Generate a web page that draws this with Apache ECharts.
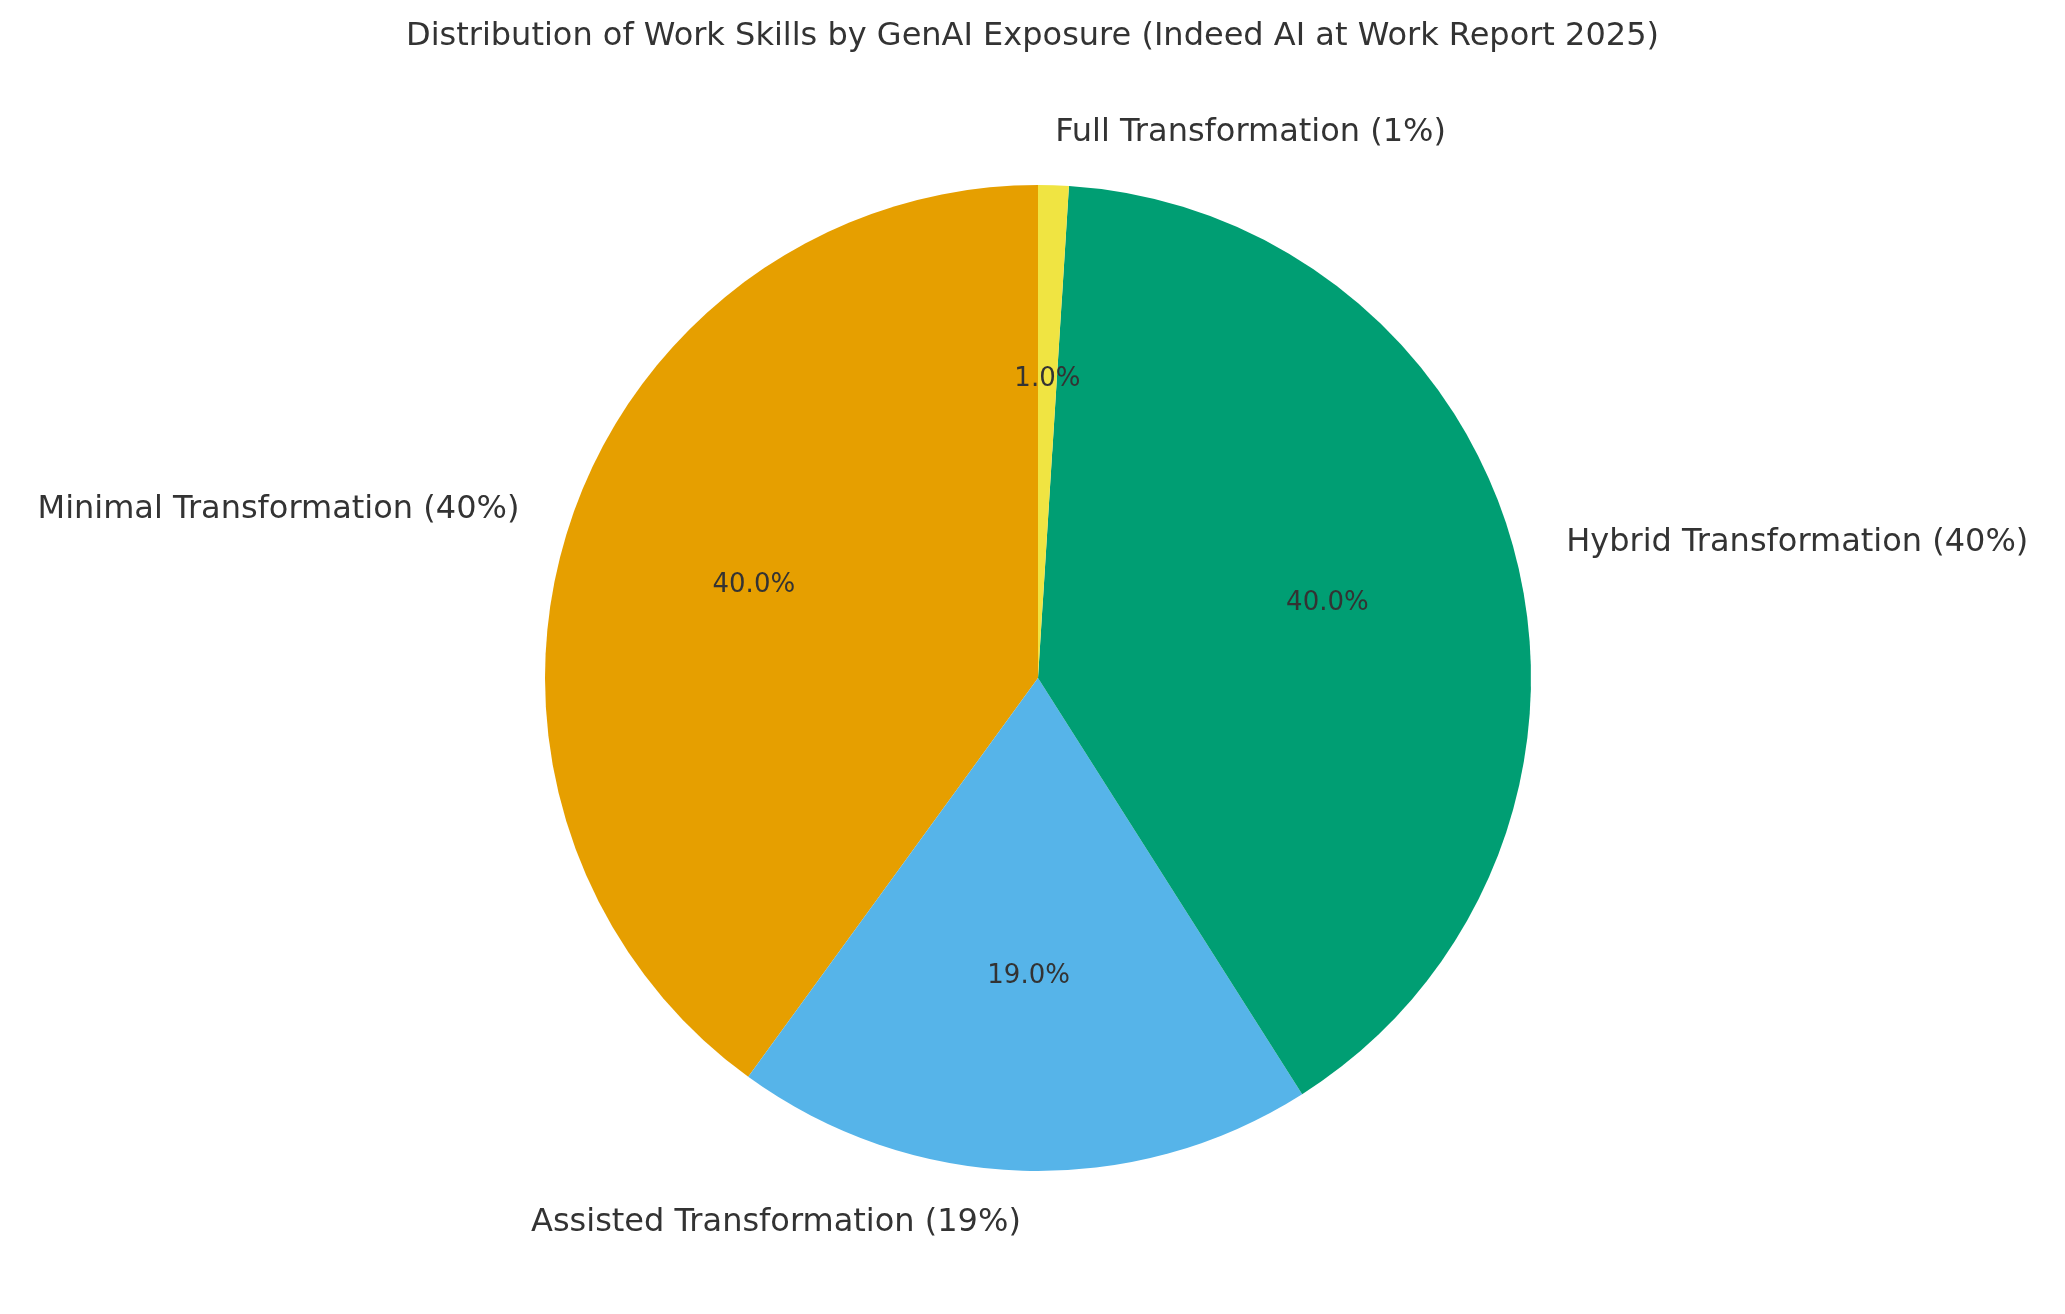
<!DOCTYPE html>
<html><head><meta charset="utf-8">
<script src="https://cdn.jsdelivr.net/npm/echarts@6/dist/echarts.min.js"></script>
<style>html,body{margin:0;padding:0;background:#fff}#c{width:2065px;height:1314px}</style>
</head><body><div id="c"></div>
<script>
const categories = ["Minimal Transformation", "Assisted Transformation", "Hybrid Transformation", "Full Transformation"];
const values = [40, 19, 40, 1];
const colors = ["#E69F00", "#56B4E9", "#009E73", "#F0E442"];
const title = "Distribution of Work Skills by GenAI Exposure (Indeed AI at Work Report 2025)";

const total = values.reduce((a, b) => a + b, 0);
const R = 493, C = [1038, 678];
const font = "DejaVu Sans";
const outerSize = 32;
const ctx = document.createElement('canvas').getContext('2d');
ctx.font = outerSize + 'px "' + font + '"';
const outerText = (n, v) => n + ' (' + v + '%)';
// matplotlib-style alignment: left half right-aligned, right half left-aligned
let acc = 0;
const offsets = values.map((v, i) => {
  const mid = 90 + (acc + v / 2) / total * 360; acc += v;
  const w = ctx.measureText(outerText(categories[i], v)).width;
  return [Math.cos(mid * Math.PI / 180) < 0 ? -w / 2 : w / 2, 0];
});

const chart = echarts.init(document.getElementById('c'));
chart.setOption({
  animation: false,
  backgroundColor: '#fff',
  title: { text: title, left: 'center', top: 16, textStyle: { fontFamily: font, fontWeight: 'normal', fontSize: 32, color: '#333' } },
  series: [
    {
      type: 'pie', center: C, radius: [0, R], startAngle: 90, clockwise: false,
      label: { show: false }, labelLine: { show: false }, silent: true,
      data: categories.map((n, i) => ({ name: n, value: values[i], itemStyle: { color: colors[i] } }))
    },
    {
      type: 'pie', center: C, radius: [0, R * 1.2], startAngle: 90, clockwise: false, silent: true,
      itemStyle: { color: 'rgba(0,0,0,0)' }, labelLine: { show: false },
      label: { show: true, position: 'inside', fontFamily: font, fontSize: 26, color: '#333',
        formatter: p => (p.value / total * 100).toFixed(1) + '%' },
      data: categories.map((n, i) => ({ name: n, value: values[i] }))
    },
    {
      type: 'pie', center: C, radius: [0, R * 2.2], startAngle: 90, clockwise: false, silent: true,
      itemStyle: { color: 'rgba(0,0,0,0)' }, labelLine: { show: false },
      label: { show: true, position: 'inside', fontFamily: font, fontSize: outerSize, color: '#333',
        formatter: p => outerText(p.name, p.value) },
      data: categories.map((n, i) => ({ name: n, value: values[i], label: { offset: offsets[i] } }))
    }
  ]
});
</script></body></html>
